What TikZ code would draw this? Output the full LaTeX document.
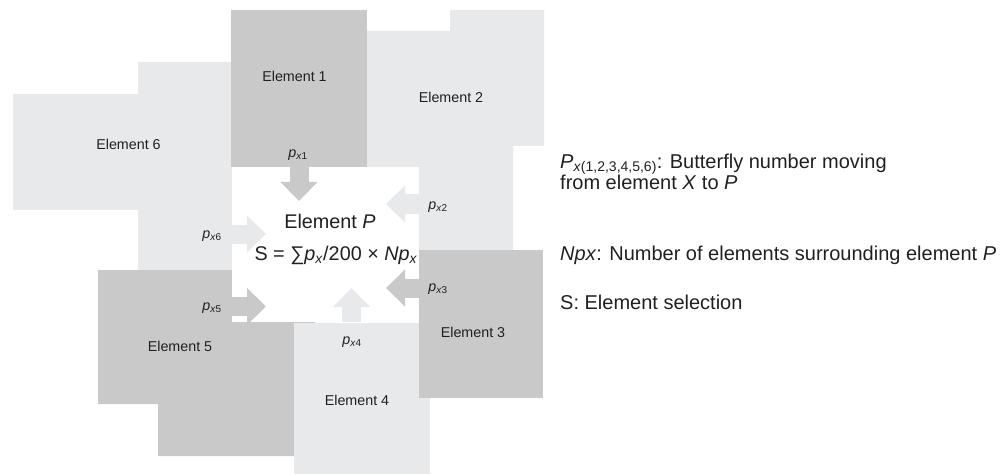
\documentclass[tikz,border=0pt]{standalone}
\usepackage{fontspec}
\setmainfont{Liberation Sans}
\usetikzlibrary{arrows.meta}
\definecolor{darkel}{RGB}{200,201,200}
\definecolor{lightel}{RGB}{232,233,235}
\definecolor{txt}{RGB}{35,31,32}
\newcommand{\psub}[1]{\textit{p}\textsubscript{\textit{x}#1}}
\begin{document}
\begin{tikzpicture}[x=1pt,y=-1pt,
  ellabel/.style={font=\fontsize{14.3}{16}\selectfont, text=txt, inner sep=0pt},
  plabel/.style={font=\fontsize{14.3}{16}\selectfont, text=txt, inner sep=0pt},
  ptext/.style={font=\fontsize{19.8}{22}\selectfont, text=txt, inner sep=0pt},
  legend/.style={font=\fontsize{20}{22}\selectfont, text=txt, inner sep=0pt, anchor=base west},
  flow/.style={line width=19pt, -{Triangle[width=36pt,length=19pt]}},
]
\useasboundingbox (0,0) rectangle (1002,476);
% elements
\fill[lightel] (13,94) -- (138,94) -- (138,62) -- (232,62) -- (232,270) -- (138,270) -- (138,210) -- (13,210) -- cycle;
\fill[lightel] (367,31) -- (450,31) -- (450,10) -- (544,10) -- (544,146) -- (513,146) -- (513,250) -- (419,250) -- (419,167) -- (367,167) -- cycle;
\fill[darkel] (231,10) rectangle (367,167);
\fill[darkel] (98,270) -- (232,270) -- (232,322) -- (315,322) -- (315,456) -- (158,456) -- (158,404) -- (98,404) -- cycle;
\fill[lightel] (294,323) rectangle (430,474);
\fill[darkel] (419,250) rectangle (543,398);
\fill[white] (232,167) rectangle (419,322);
% arrow coordinates
\coordinate (a1s) at (299,167); \coordinate (a1t) at (299,201);
\coordinate (a2s) at (419,204); \coordinate (a2t) at (386,204);
\coordinate (a3s) at (419,288); \coordinate (a3t) at (386,288);
\coordinate (a4s) at (351.5,322); \coordinate (a4t) at (351.5,288);
\coordinate (a5s) at (232,306.5); \coordinate (a5t) at (266,306.5);
\coordinate (a6s) at (232,234); \coordinate (a6t) at (266,234);
\draw[flow, darkel] (a1s) -- (a1t);
\draw[flow, lightel] (a2s) -- (a2t);
\draw[flow, darkel] (a3s) -- (a3t);
\draw[flow, lightel] (a4s) -- (a4t);
\draw[flow, darkel] (a5s) -- (a5t);
\draw[flow, lightel] (a6s) -- (a6t);
% element labels
\node[ellabel] (e1) at (294.5,76) {Element 1};
\node[ellabel] (e2) at (451,97) {Element 2};
\node[ellabel] (e3) at (473,332) {Element 3};
\node[ellabel] (e4) at (357,400) {Element 4};
\node[ellabel] (e5) at (180,346) {Element 5};
\node[ellabel] (e6) at (128.5,144) {Element 6};
% p labels
\node[plabel] (p1) at (298,155) {\psub{1}};
\node[plabel] (p2) at (438,207) {\psub{2}};
\node[plabel] (p3) at (438,289) {\psub{3}};
\node[plabel] (p4) at (352,342) {\psub{4}};
\node[plabel] (p5) at (212,308) {\psub{5}};
\node[plabel] (p6) at (212,236) {\psub{6}};
% element P
\node[ptext] (ep) at (330,221) {Element \textit{P}};
\node[ptext] (sf) at (336,255) {S = ∑\textit{p}\textsubscript{\textit{x}}/200 × \textit{Np}\textsubscript{\textit{x}}};
% legend
\node[legend] (l1) at (560,168) {\textit{P}\textsubscript{\textit{x}(1,2,3,4,5,6)}: Butterfly number moving};
\node[legend] (l2) at (560,189.5) {from element \textit{X} to \textit{P}};
\node[legend] (l3) at (560,260.5) {\textit{Npx}: Number of elements surrounding element \textit{P}};
\node[legend] (l4) at (560,309) {S: Element selection};
\end{tikzpicture}
\end{document}
